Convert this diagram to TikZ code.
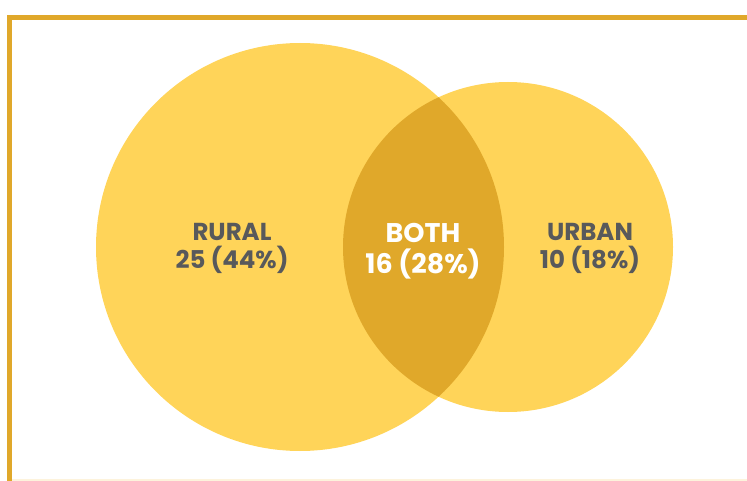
\documentclass[tikz,border=0pt]{standalone}
\usepackage{fontspec}
\setmainfont{Poppins}
\usetikzlibrary{positioning}
\definecolor{venn}{HTML}{FFD459}
\definecolor{gold}{HTML}{E0A82A}
\definecolor{pale}{HTML}{FDF3DC}
\definecolor{ink}{HTML}{58595B}

\begin{document}
\begin{tikzpicture}[x=1pt,y=-1pt]
		\useasboundingbox (0,0) rectangle (747,481);
		% frame
		\draw[gold,line width=5pt] (9.8,481) |- (747,17.5);
		\draw[pale,line width=1.5pt] (12.3,480) -- (747,480);

		\begin{scope}[every node/.style={circle,inner sep=0pt,fill=venn}]
			\node[minimum size=408pt] (rural) at (300,247) {};
			\node[minimum size=330pt] (urban) at (508,247) {};
		\end{scope}

		% overlap
		\begin{scope}
			\clip (rural.center) circle[radius=204pt];
			\fill[gold] (urban.center) circle[radius=165pt];
		\end{scope}

		\begin{scope}[every node/.style={align=center,font=\bfseries\fontsize{24.5}{28}\selectfont,text=ink}]
			\node (ruraltext) at (232,248) {RURAL\\25 (44\%)};
			\node (urbantext) at (590,248) {URBAN\\10 (18\%)};
			\node[text=white,font=\bfseries\fontsize{27}{31}\selectfont] (bothtext) at (423,251) {BOTH\\16 (28\%)};
		\end{scope}
	\end{tikzpicture}
\end{document}
